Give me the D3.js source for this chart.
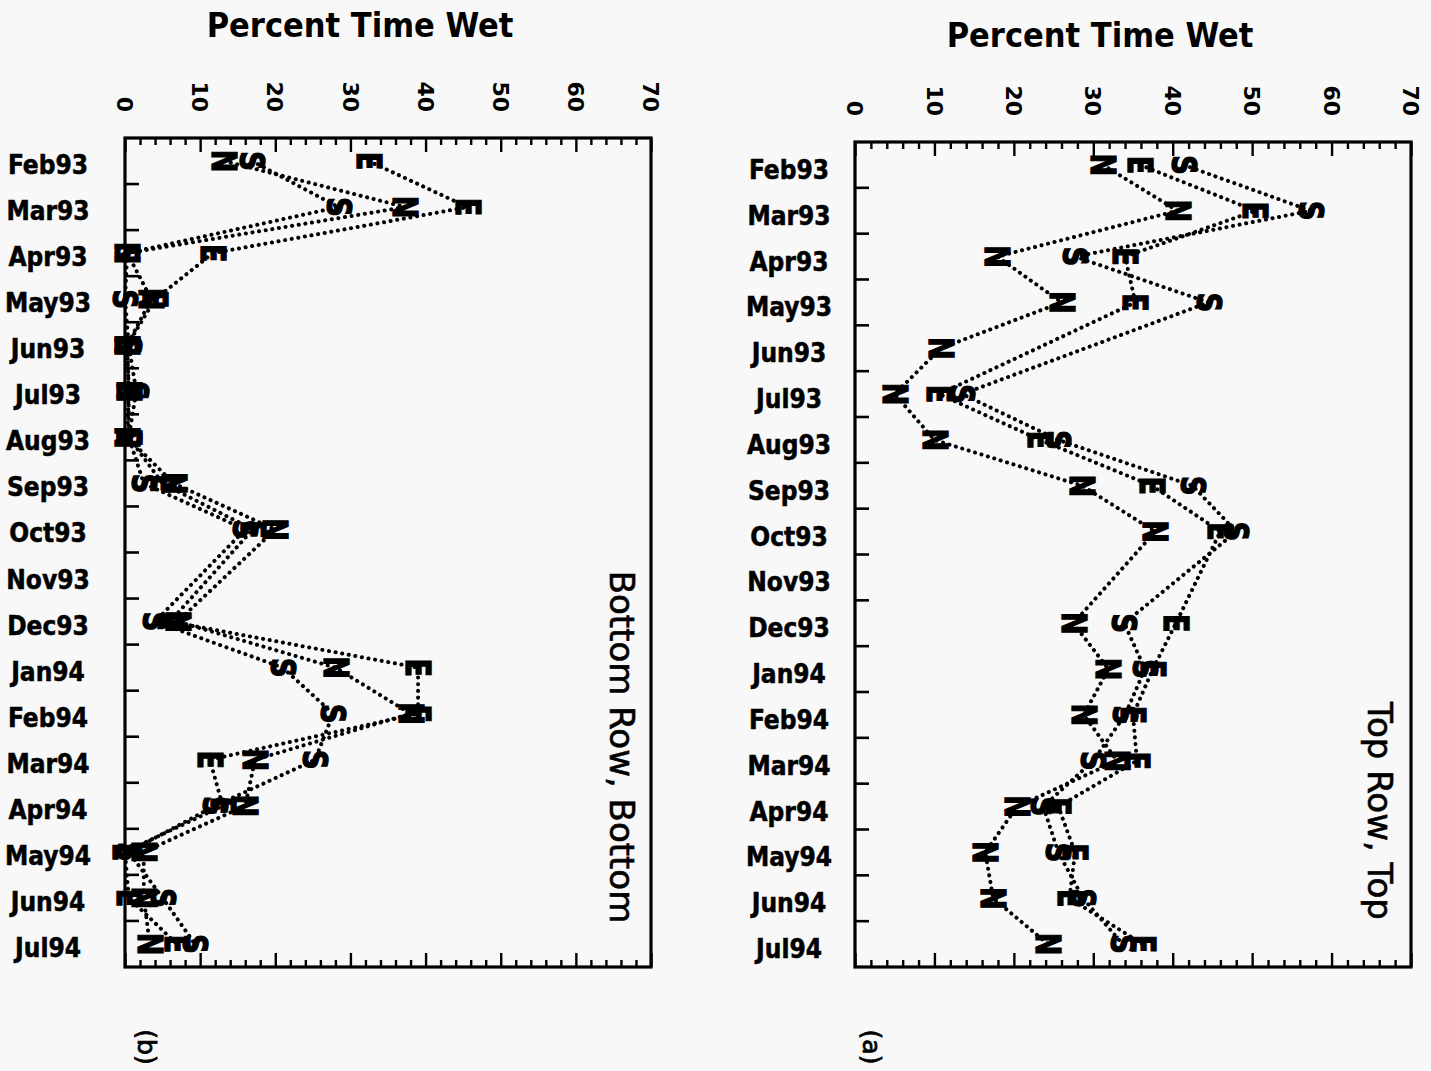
<!DOCTYPE html>
<html>
<head>
<meta charset="utf-8">
<script src="https://cdn.jsdelivr.net/npm/d3@7/dist/d3.min.js"></script>
<style>
  html, body { margin: 0; padding: 0; background: #f8f8f8; }
  svg { display: block; }
</style>
</head>
<body>
<svg id="chart" width="1431" height="1071"></svg>
<script>
// Monthly observation periods
const months = ["Feb93", "Mar93", "Apr93", "May93", "Jun93", "Jul93", "Aug93", "Sep93", "Oct93",
                "Nov93", "Dec93", "Jan94", "Feb94", "Mar94", "Apr94", "May94", "Jun94", "Jul94"];

// Percent time wet, bottom row sensors (bottom face); null = no record
const bottomN = [13.2, 37.3, 0.3, 3.5, 0.3, 0.5, 0.3, 6.5, 20.0, null, 7.0, 28.0, 38.0, 17.3, 16.0, 2.5, 2.5, 3.3];
const bottomE = [32.4, 45.6, 11.7, 4.0, 0.3, 0.5, 0.5, 5.0, 17.0, null, 6.0, 39.0, 39.0, 11.3, 13.0, 0.0, 0.5, 6.9];
const bottomS = [16.9, 28.4, 0.3, 0.0, 0.5, 1.5, 0.5, 2.5, 16.0, null, 4.0, 21.0, 27.7, 25.3, 12.0, 0.5, 5.0, 9.3];

// Percent time wet, top row sensors (top face); null = no record
const topN = [31.2, 40.6, 17.9, 26.0, 10.8, 5.0, 10.0, 28.6, 37.8, null, 27.5, 31.9, 28.8, 33.0, 20.4, 16.4, 17.4, 24.3];
const topE = [35.9, 50.4, 34.0, 35.3, null, 10.6, 23.3, 37.4, 46.0, null, 40.4, 37.5, 35.0, 35.5, 25.6, 27.7, 27.0, 36.2];
const topS = [41.4, 57.4, 27.7, 44.5, null, 13.5, 25.6, 42.5, 48.0, null, 33.9, 36.5, 34.0, 30.0, 23.7, 25.6, 28.7, 33.7];

// Axis
const xTicks = [0, 10, 20, 30, 40, 50, 60, 70];
const xDomain = [0, 70];
const axisTitle = "Percent Time Wet";

const seriesNames = ["N", "E", "S"];

const svg = d3.select("#chart");

const panels = [
  { tag: "(b)", side: "Bottom Row, Bottom", series: [bottomN, bottomE, bottomS],
    left: 125, right: 651, top: 138, bottom: 967,
    titleX: 360, titleY: 37, tickLabelEnd: 112, monthX: 48, monthDy: 13, sideX: 610, sideY: 747, tagX: 147 },
  { tag: "(a)", side: "Top Row, Top", series: [topN, topE, topS],
    left: 855, right: 1411, top: 142, bottom: 967,
    titleX: 1100, titleY: 47, tickLabelEnd: 116, monthX: 789, monthDy: 14, sideX: 1368, sideY: 811, tagX: 872 }
];

panels.forEach(p => {
  const g = svg.append("g");

  const x = d3.scaleLinear().domain(xDomain).range([p.left, p.right]);
  const y = d3.scaleBand().domain(months).range([p.top, p.bottom]).padding(0);
  const yc = m => y(m) + y.bandwidth() / 2;

  // Axis title
  g.append("text")
    .attr("x", p.titleX)
    .attr("y", p.titleY)
    .attr("text-anchor", "middle")
    .attr("font-family", "'DejaVu Sans Condensed', 'DejaVu Sans', sans-serif")
    .attr("font-weight", "bold")
    .attr("font-size", 34)
    .attr("fill", "#000")
    .text(axisTitle);

  // Minor and major ticks on top and bottom edges (pointing inward)
  const minorVals = d3.range(xDomain[0], xDomain[1] + 0.001, 2).filter(v => v % 10 !== 0);
  const axTopMinor = d3.axisTop(x).tickValues(minorVals).tickSize(-7).tickFormat("");
  const axTopMajor = d3.axisTop(x).tickValues(xTicks).tickSize(-14).tickFormat("");
  const axBotMinor = d3.axisBottom(x).tickValues(minorVals).tickSize(-7).tickFormat("");
  const axBotMajor = d3.axisBottom(x).tickValues(xTicks).tickSize(-14).tickFormat("");
  [[axTopMinor, p.top], [axTopMajor, p.top], [axBotMinor, p.bottom], [axBotMajor, p.bottom]].forEach(([ax, yy]) => {
    const a = g.append("g").attr("transform", `translate(0,${yy})`).call(ax);
    a.select(".domain").remove();
    a.selectAll(".tick line").attr("stroke", "#000").attr("stroke-width", 2.4);
  });

  // Rotated tick labels along the top
  g.selectAll(".xlab").data(xTicks).enter().append("text")
    .attr("transform", d => `translate(${x(d)},${p.tickLabelEnd}) rotate(90)`)
    .attr("dy", "0.36em")
    .attr("text-anchor", "end")
    .attr("font-family", "'DejaVu Sans', sans-serif")
    .attr("font-weight", "bold")
    .attr("font-size", 22)
    .attr("fill", "#000")
    .text(d => d);

  // Left edge ticks at category boundaries
  const bounds = months.slice(1).map(m => y(m));
  g.selectAll(".ytick").data(bounds).enter().append("line")
    .attr("x1", p.left).attr("x2", p.left + 14)
    .attr("y1", d => d).attr("y2", d => d)
    .attr("stroke", "#000").attr("stroke-width", 2.6);

  // Month labels
  g.selectAll(".mlab").data(months).enter().append("text")
    .attr("x", p.monthX)
    .attr("y", d => yc(d) + p.monthDy)
    .attr("text-anchor", "middle")
    .attr("font-family", "'DejaVu Sans Condensed', 'DejaVu Sans', sans-serif")
    .attr("font-weight", "bold")
    .attr("font-size", 26)
    .attr("stroke", "#000").attr("stroke-width", 0.5)
    .attr("fill", "#000")
    .text(d => d);

  // Dotted series lines (missing months are skipped and joined across)
  const line = d3.line().x(d => x(d.v)).y(d => yc(d.m));
  p.series.forEach(vals => {
    const pts = months.map((m, i) => ({ m, v: vals[i] })).filter(d => d.v !== null);
    g.append("path")
      .datum(pts)
      .attr("d", line)
      .attr("fill", "none")
      .attr("stroke", "#000")
      .attr("stroke-width", 4)
      .attr("stroke-linecap", "round")
      .attr("stroke-dasharray", "0.1 6.6");
  });

  // Letter markers, rotated with the plot
  p.series.forEach((vals, si) => {
    const pts = months.map((m, i) => ({ m, v: vals[i] })).filter(d => d.v !== null);
    g.selectAll(null).data(pts).enter().append("text")
      .attr("transform", d => `translate(${x(d.v)},${yc(d.m)}) rotate(90) scale(0.82,1)`)
      .attr("dy", "0.36em")
      .attr("text-anchor", "middle")
      .attr("font-family", "'DejaVu Sans', sans-serif")
      .attr("font-weight", "bold")
      .attr("font-size", 33)
      .attr("stroke", "#000").attr("stroke-width", 1.4)
      .attr("fill", "#000")
      .text(seriesNames[si]);
  });

  // Frame
  g.append("rect")
    .attr("x", p.left).attr("y", p.top)
    .attr("width", p.right - p.left).attr("height", p.bottom - p.top)
    .attr("fill", "none").attr("stroke", "#000").attr("stroke-width", 3.2);

  // Side caption
  g.append("text")
    .attr("transform", `translate(${p.sideX},${p.sideY}) rotate(90)`)
    .attr("text-anchor", "middle")
    .attr("font-family", "'DejaVu Sans', sans-serif")
    .attr("font-size", 34)
    .attr("stroke", "#000").attr("stroke-width", 0.6)
    .attr("fill", "#000")
    .text(p.side);

  // Panel tag
  g.append("text")
    .attr("transform", `translate(${p.tagX},1047) rotate(90)`)
    .attr("dy", "0.36em")
    .attr("text-anchor", "middle")
    .attr("font-family", "'DejaVu Sans', sans-serif")
    .attr("font-size", 25)
    .attr("stroke", "#000").attr("stroke-width", 0.8)
    .attr("fill", "#000")
    .text(p.tag);
});
</script>
</body>
</html>
